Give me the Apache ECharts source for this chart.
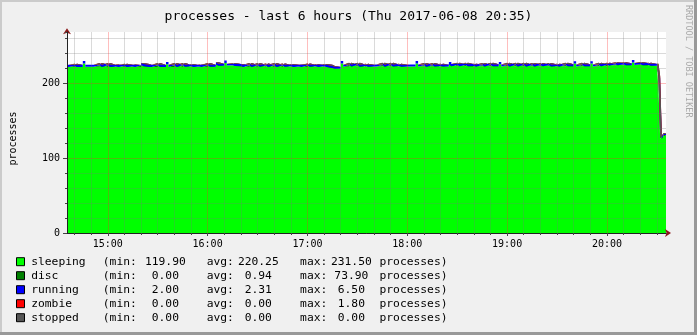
<!DOCTYPE html>
<html><head><meta charset="utf-8">
<script src="https://cdn.jsdelivr.net/npm/echarts@6/dist/echarts.min.js"></script>
<style>html,body{margin:0;padding:0;background:#f0f0f0}#c{width:697px;height:335px}</style>
</head><body><div id="c"></div><script>
const titleText = 'processes - last 6 hours (Thu 2017-06-08 20:35)';
const yName = 'processes';
const watermark = 'RRDTOOL / TOBI OETIKER';
const hourLabels = ['15:00','16:00','17:00','18:00','19:00','20:00'];
const yTickLabels = [0, 100, 200];
const seriesNames = ['sleeping','disc','running','zombie','stopped'];
const seriesColors = ['#00ff00','#008000','#0000ff','#ff0000','#555555'];
const statMin = ['119.90','0.00','2.00','0.00','0.00'];
const statAvg = ['220.25','0.94','2.31','0.00','0.00'];
const statMax = ['231.50','73.90','6.50','1.80','0.00'];

// 5-minute slots from 14:35: "Spike" = first 90 s of the slot, "Base" = rest of the slot
const slotStart = '2017-06-08T14:35:00';
const sleepingSpike = [221.5,222.8,226.0,221.8,223.7,223.7,222.0,222.8,222.0,223.7,
  221.5,223.7,225.0,223.7,223.7,222.5,222.0,223.7,224.6,226.8,
  223.7,222.5,223.7,223.7,223.2,223.7,223.2,222.5,222.0,223.2,
  222.5,222.5,220.0,226.0,224.0,224.0,222.8,222.0,224.0,224.0,
  222.8,222.0,226.0,223.7,223.7,222.8,225.0,224.0,224.0,222.8,
  223.7,224.0,225.0,224.0,224.0,224.0,223.7,223.7,223.7,222.8,
  224.0,226.0,224.0,226.0,224.0,224.0,224.6,224.6,227.3,225.0,
  224.0,223.0];
const sleepingBase = [221.5,221.5,221.8,221.8,221.5,221.5,221.3,221.5,221.3,222.5,
  221.5,221.5,221.5,221.5,221.8,221.5,221.5,221.8,223.0,223.2,
  222.8,221.5,221.5,221.8,221.5,221.5,221.8,221.5,221.5,221.8,
  221.5,221.5,219.0,221.8,222.0,221.8,221.8,222.0,221.8,222.0,
  221.8,222.0,222.0,221.8,222.0,222.0,222.5,222.5,222.3,222.0,
  222.0,222.2,222.0,222.0,222.0,222.0,222.0,222.2,222.0,222.0,
  222.3,222.0,222.3,222.0,222.5,223.3,223.8,223.8,224.0,223.8,
  223.0];
const runningSpike = [2.8,3.0,3.2,2.7,3.0,2.9,2.8,3.0,2.8,2.9,
  2.7,3.0,3.1,2.9,2.9,2.8,2.8,3.0,3.0,3.3,
  2.9,2.8,2.9,3.0,2.9,2.9,2.9,2.8,2.8,2.9,
  2.8,2.8,2.8,3.2,2.9,2.9,2.8,2.8,2.9,2.9,
  2.8,2.8,3.2,2.9,2.9,2.8,3.0,2.9,2.9,2.8,
  2.9,2.9,3.0,2.9,2.9,2.9,2.9,2.9,2.9,2.8,
  2.9,3.1,2.9,3.1,2.9,2.9,3.0,3.0,3.3,3.0,
  2.9,2.8];
const runningBase = [2.7,2.7,2.6,2.7,2.7,2.6,2.7,2.7,2.6,2.7,
  2.7,2.6,2.7,2.7,2.7,2.6,2.7,2.7,2.7,2.6,
  2.7,2.7,2.6,2.7,2.7,2.7,2.6,2.7,2.7,2.6,
  2.7,2.7,2.7,2.6,2.7,2.7,2.6,2.7,2.7,2.7,
  2.6,2.7,2.7,2.7,2.6,2.7,2.7,2.7,2.6,2.7,
  2.7,2.7,2.6,2.7,2.7,2.7,2.6,2.7,2.7,2.7,
  2.6,2.7,2.7,2.7,2.6,2.7,2.7,2.7,2.6,2.7,
  2.7];
const discSpike = [0,0,0,0,0,0,0,0,0,0, 0,0,0,0,0,0,0,0,0,0, 0,0,0,0,0,0,0,0,0,0, 0,0,0,0,0,0,0,0,0,0,
  0,0,0,0,0,0,0,0,0,0, 0,0,0,0,0,0,0,0,0,0, 0,0,0,0,0,0,0,0,0,0, 0,0];
const discBase = [0,0,0,0,0,0,0,0,0,0, 0,0,0,0,0,0,0,0,0,0, 0,0,0,0,0,0,0,0,0,0, 0,0,0,0,0,0,0,0,0,0,
  0,0,0,0,0,0,0,0,0,0, 0,0,0,0,0,0,0,0,0,0, 0,0,0,0,0,0,0,0,0,0, 0];
const zombieSpike = [0,0,0,0,0,0,0,0,0,0, 0,0,0,0,0,0,0,0,0,0, 0,0,0,0,0,0,0,0,0,0, 0,0,0,0,0,0,0,0,0,0,
  0,0,0,0,0,0,0,0,0,0, 0,0,0,0,0,0,0,0,0,0, 0,0,0,0,0,0,0,0,0,0, 0,0];
const zombieBase = [0,0,0,0,0,0,0,0,0,0, 0,0,0,0,0,0,0,0,0,0, 0,0,0,0,0,0,0,0,0,0, 0,0,0,0,0,0,0,0,0,0,
  0,0,0,0,0,0,0,0,0,0, 0,0,0,0,0,0,0,0,0,0, 0,0,0,0,0,0,0,0,0,0, 0];
const stoppedSpike = [0,0,0,0,0,0,0,0,0,0, 0,0,0,0,0,0,0,0,0,0, 0,0,0,0,0,0,0,0,0,0, 0,0,0,0,0,0,0,0,0,0,
  0,0,0,0,0,0,0,0,0,0, 0,0,0,0,0,0,0,0,0,0, 0,0,0,0,0,0,0,0,0,0, 0,0];
const stoppedBase = [0,0,0,0,0,0,0,0,0,0, 0,0,0,0,0,0,0,0,0,0, 0,0,0,0,0,0,0,0,0,0, 0,0,0,0,0,0,0,0,0,0,
  0,0,0,0,0,0,0,0,0,0, 0,0,0,0,0,0,0,0,0,0, 0,0,0,0,0,0,0,0,0,0, 0];
// last minutes at 1-minute resolution
const tailTimes = ['20:31','20:32','20:33','20:34'];
const tailSleeping = [191.6,125.5,128.4,130.6];
const tailDisc = [14.7,0,0,0];
const tailRunning = [2.8,2.8,2.7,2.7];
const tailZombie = [0,0,0,0];
const tailStopped = [0,0,0,0];
const viewStart = '2017-06-08T14:35:30';
const viewEnd = '2017-06-08T20:35:30';

const FONT = 'DejaVu Sans Mono';
const tMin = new Date(viewStart).getTime();
const tMax = new Date(viewEnd).getTime();
function build(spike, base, tail) {
  const out = [];
  const t0 = new Date(slotStart).getTime();
  for (let k = 0; k < spike.length; k++) {
    const t = t0 + k * 300000;
    out.push([t, spike[k]]);
    if (k < base.length) out.push([t + 90000, base[k]]);
  }
  tailTimes.forEach((hm, i) => out.push([new Date('2017-06-08T' + hm + ':00').getTime(), tail[i]]));
  out.push([tMax + 60000, tail[tail.length - 1]]);
  return out;
}
const seriesData = [
  build(sleepingSpike, sleepingBase, tailSleeping),
  build(discSpike, discBase, tailDisc),
  build(runningSpike, runningBase, tailRunning),
  build(zombieSpike, zombieBase, tailZombie),
  build(stoppedSpike, stoppedBase, tailStopped)
];
// half-minute grid categories aligned with the time axis
const pad = n => String(n).padStart(2, '0');
const gridCats = [];
for (let t = tMin; t <= tMax; t += 30000) {
  const d = new Date(t);
  gridCats.push(pad(d.getHours()) + ':' + pad(d.getMinutes()) + ':' + pad(d.getSeconds()));
}
const isMajor = (v) => v.slice(6) === '00' && hourLabels.includes(v.slice(0, 5));
const isMinor = (v) => v.slice(6) === '00' && (+v.slice(3, 5)) % 10 === 0 && !isMajor(v);

const MINOR = 'rgba(120,120,120,0.27)';
const MAJOR = 'rgba(255,40,40,0.30)';
const ARROW = '#8b1a1a';
const ySplitColors = ['rgba(0,0,0,0)', MINOR, MINOR, MINOR, MINOR, MAJOR, MINOR, MINOR, MINOR, MINOR,
  MAJOR, MINOR, MINOR, MINOR, 'rgba(0,0,0,0)'];

const mk = (w, align) => ({ width: w, align: align || 'left', fontFamily: FONT, fontSize: 11.3, lineHeight: 14, color: '#000' });

const chart = echarts.init(document.getElementById('c'));
chart.setOption({
  animation: false,
  backgroundColor: '#f0f0f0',
  title: { text: titleText, left: 'center', top: 10, padding: 0,
    textStyle: { fontFamily: FONT, fontSize: 13, fontWeight: 'normal', color: '#000' } },
  grid: { left: 67, right: 31, top: 32, bottom: 102, show: true, backgroundColor: '#ffffff', borderWidth: 0 },
  legend: {
    data: seriesNames, orient: 'vertical', left: 16, top: 254.7, itemGap: 0, padding: 0,
    itemWidth: 8, itemHeight: 8, icon: 'rect', selectedMode: false,
    itemStyle: { borderColor: '#000', borderWidth: 1 },
    textStyle: { fontFamily: FONT, fontSize: 11.3, lineHeight: 14, color: '#000',
      rich: { p: mk(1.7), n: mk(71.6), a: mk(41.7), b: mk(41.7, 'right'), s: mk(16.6), c: mk(35),
        d: mk(41, 'right'), s2: mk(17.4), e: mk(35), f: mk(40.3, 'right'), s3: mk(8), g: mk(null) } },
    formatter: (name) => {
      const i = seriesNames.indexOf(name);
      return '{p| }{n|' + name + '}{a|(min:}{b|' + statMin[i] + '}{s| }{c|avg:}{d|' + statAvg[i] +
        '}{s2| }{e|max:}{f|' + statMax[i] + '}{s3| }{g|processes)}';
    }
  },
  xAxis: [
    { type: 'time', min: tMin, max: tMax, position: 'bottom', z: 3,
      axisLine: { show: true, symbol: ['none', 'arrow'], symbolSize: [6, 6], symbolOffset: [0, 5],
        lineStyle: { color: ARROW, width: 1 } },
      axisTick: { show: false }, axisLabel: { show: false }, splitLine: { show: false }, minorTick: { show: false } },
    { type: 'category', data: gridCats, boundaryGap: false, position: 'bottom', z: 4,
      axisLine: { show: false },
      axisTick: { show: true, length: 2, interval: (i, v) => isMinor(v) || isMajor(v), lineStyle: { color: '#444' } },
      axisLabel: { show: false },
      splitLine: { show: true, interval: (i, v) => isMinor(v), lineStyle: { color: MINOR, width: 1 } } },
    { type: 'category', data: gridCats, boundaryGap: false, position: 'bottom', z: 4,
      axisLine: { show: true, lineStyle: { color: '#222', width: 1 } },
      axisTick: { show: true, length: 3, interval: (i, v) => isMajor(v), lineStyle: { color: '#444' } },
      axisLabel: { show: true, interval: (i, v) => isMajor(v), formatter: v => v.slice(0, 5),
        fontFamily: FONT, fontSize: 10, color: '#000', margin: 6 },
      splitLine: { show: true, interval: (i, v) => isMajor(v), lineStyle: { color: MAJOR, width: 1 } } }
  ],
  yAxis: [
    { type: 'value', min: 0, max: 268, interval: 20, position: 'left', z: 4,
      name: yName, nameLocation: 'middle', nameGap: 49,
      nameTextStyle: { fontFamily: FONT, fontSize: 10, color: '#000', padding: [0, 12, 0, 0] },
      axisLine: { show: true, lineStyle: { color: '#222', width: 1 } },
      axisTick: { show: true, length: 2, lineStyle: { color: '#444' } },
      axisLabel: { formatter: v => (yTickLabels.includes(v) ? String(v) : ''), fontFamily: FONT, fontSize: 10, color: '#000', margin: 7 },
      splitLine: { show: true, lineStyle: { color: ySplitColors, width: 1 } } },
    { type: 'value', min: 0, max: 268, interval: 100, position: 'left', z: 3,
      axisLine: { show: true, symbol: ['none', 'arrow'], symbolSize: [6, 6], symbolOffset: [0, 3.7],
        lineStyle: { color: ARROW, width: 1 } },
      axisTick: { show: true, length: 4, customValues: yTickLabels, lineStyle: { color: '#444' } },
      axisLabel: { show: false }, splitLine: { show: false } }
  ],
  series: seriesNames.map((n, i) => ({
    name: n, type: 'line', xAxisIndex: 0, yAxisIndex: 0, stack: 'procs', step: 'end',
    symbol: 'none', showSymbol: false, color: seriesColors[i],
    lineStyle: { width: 0 }, areaStyle: { color: seriesColors[i], opacity: 1 },
    data: seriesData[i]
  })),
  graphic: [
    { type: 'text', x: 688, y: 5, rotation: -Math.PI / 2, silent: true,
      style: { text: watermark, fill: '#aaaaaa', font: '8.5px "DejaVu Sans Mono"', align: 'left', verticalAlign: 'middle' } },
    { type: 'rect', shape: { x: 0, y: 0, width: 697, height: 2 }, style: { fill: '#cbcbcb' }, silent: true },
    { type: 'rect', shape: { x: 0, y: 0, width: 2, height: 335 }, style: { fill: '#cbcbcb' }, silent: true },
    { type: 'rect', shape: { x: 694, y: 0, width: 3, height: 335 }, style: { fill: '#999999' }, silent: true },
    { type: 'rect', shape: { x: 0, y: 332, width: 697, height: 3 }, style: { fill: '#999999' }, silent: true }
  ]
});
</script></body></html>
